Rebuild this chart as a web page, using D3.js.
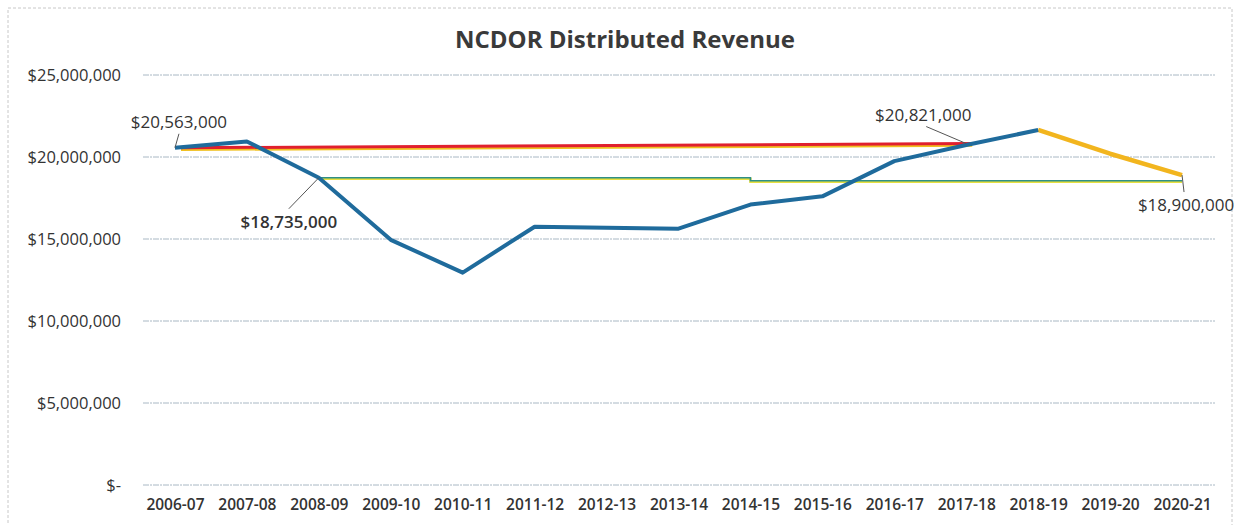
<!DOCTYPE html>
<html>
<head>
<meta charset="utf-8">
<script src="https://cdn.jsdelivr.net/npm/d3@7"></script>
<style>
  body { margin: 0; background: #fff; }
  text { font-family: "Open Sans", Lato, sans-serif; fill: #333; }
</style>
</head>
<body>
<svg id="chart"></svg>
<script>
const W = 1236, H = 525;

const years = ["2006-07","2007-08","2008-09","2009-10","2010-11","2011-12","2012-13",
  "2013-14","2014-15","2015-16","2016-17","2017-18","2018-19","2019-20","2020-21"];
// actual distributed revenue
const actual = [20563000, 20950000, 18735000, 14950000, 12950000, 15750000, 15690000,
  15630000, 17100000, 17600000, 19750000, 20730000, 21650000, null, null];
// projection after 2018-19
const projYears = ["2018-19", "2019-20", "2020-21"];
const projected = [21650000, 20200000, 18900000];
// red reference line
const refYears = ["2006-07", "2017-18"];
const refVals = [20563000, 20821000];
// green step line
const stepYears = ["2008-09","2009-10","2010-11","2011-12","2012-13","2013-14","2014-15",
  "2015-16","2016-17","2017-18","2018-19","2019-20","2020-21"];
const stepVals = [18735000, 18735000, 18735000, 18735000, 18735000, 18735000, 18550000,
  18550000, 18550000, 18550000, 18550000, 18550000, 18550000];
const yTicks = [0, 5000000, 10000000, 15000000, 20000000, 25000000];

const svg = d3.select("#chart").attr("width", W).attr("height", H);

const plotLeft = 143, plotRight = 1215, plotTop = 75, plotBottom = 485;

let x = d3.scalePoint().domain(years).range([139, 1218]).padding(0.5);
let y = d3.scaleLinear().domain([0, 25000000]).range([plotBottom, plotTop]);

// outer border
svg.append("rect")
  .attr("x", 8).attr("y", 8).attr("width", W - 12).attr("height", H - 4)
  .attr("fill", "none").attr("stroke", "#c8c8c8").attr("stroke-dasharray", "3,2");

svg.append("text")
  .attr("x", 625).attr("y", 48)
  .attr("text-anchor", "middle")
  .attr("font-size", 24).attr("font-weight", "bold")
  .style("fill", "#3a3a3a")
  .text("NCDOR Distributed Revenue");

// gridlines
svg.selectAll(".grid")
  .data(yTicks)
  .enter()
  .append("line")
  .attr("x1", plotLeft).attr("x2", plotRight)
  .attr("y1", d => y(d)).attr("y2", d => y(d))
  .attr("stroke", "#a9b8c4").attr("stroke-width", 1)
  .attr("stroke-dasharray", "6,1,2,1");

let fmt = d => d === 0 ? "$-" : "$" + d3.format(",")(d);

let yAxis = d3.axisLeft(y).tickValues(yTicks).tickFormat(fmt).tickSize(0).tickPadding(22);
svg.append("g").attr("transform", "translate(" + plotLeft + ",0)").call(yAxis)
  .call(g => g.select(".domain").remove())
  .selectAll("text").attr("font-size", 16.5);

let xAxis = d3.axisBottom(x).tickSize(0).tickPadding(14);
svg.append("g").attr("transform", "translate(0," + plotBottom + ")").call(xAxis)
  .call(g => g.select(".domain").remove())
  .selectAll("text").attr("font-size", 15.5).attr("font-weight", 600);

let line = d3.line().x(d => x(d[0])).y(d => y(d[1]));

// green step line (yellow halo from scan)
let stepPts = stepYears.map((d, i) => [d, stepVals[i]]);
let stepLine = d3.line().x(d => x(d[0])).y(d => y(d[1])).curve(d3.curveStepAfter);
svg.append("path").datum(stepPts).attr("d", stepLine)
  .attr("fill", "none").attr("stroke", "#e8e040").attr("stroke-width", 2.5)
  .attr("transform", "translate(0,1)");
svg.append("path").datum(stepPts).attr("d", stepLine)
  .attr("fill", "none").attr("stroke", "#2f8f86").attr("stroke-width", 1.6);

// red reference line
let refPts = refYears.map((d, i) => [d, refVals[i]]);
svg.append("path").datum(refPts).attr("d", line)
  .attr("fill", "none").attr("stroke", "#f0c020").attr("stroke-width", 3.5)
  .attr("transform", "translate(6,1.5)");
svg.append("path").datum(refPts).attr("d", line)
  .attr("fill", "none").attr("stroke", "#e0202e").attr("stroke-width", 3)
  .attr("transform", "translate(6,0)");

// projection
let projPts = projYears.map((d, i) => [d, projected[i]]);
svg.append("path").datum(projPts).attr("d", line)
  .attr("fill", "none").attr("stroke", "#f2b51e").attr("stroke-width", 4.5)
  .attr("stroke-linejoin", "round");

// actual
let actPts = years.map((d, i) => [d, actual[i]]).filter(d => d[1] !== null);
svg.append("path").datum(actPts).attr("d", line)
  .attr("fill", "none").attr("stroke", "#1f6b9c").attr("stroke-width", 4)
  .attr("stroke-linejoin", "round");

// data labels with leader lines
let labels = [
  { year: "2006-07", val: 20563000, dx: 4, dy: -20, lx: 4, ly: -14 },
  { year: "2008-09", val: 18735000, dx: -30, dy: 50, lx: -30, ly: 31 },
  { year: "2017-18", val: 20821000, dx: -43, dy: -23, lx: -40, ly: -17 },
  { year: "2020-21", val: 18900000, dx: 4, dy: 36, lx: 2, ly: 17 }
];
labels.forEach(l => {
  let px = x(l.year), py = y(l.val);
  svg.append("line")
    .attr("x1", px).attr("y1", py)
    .attr("x2", px + l.lx).attr("y2", py + l.ly)
    .attr("stroke", "#555").attr("stroke-width", 1);
  svg.append("text")
    .attr("x", px + l.dx).attr("y", py + l.dy)
    .attr("text-anchor", "middle")
    .attr("font-size", 17)
    .attr("font-weight", l.year === "2008-09" ? 600 : "normal")
    .text(fmt(l.val));
});
</script>
</body>
</html>
